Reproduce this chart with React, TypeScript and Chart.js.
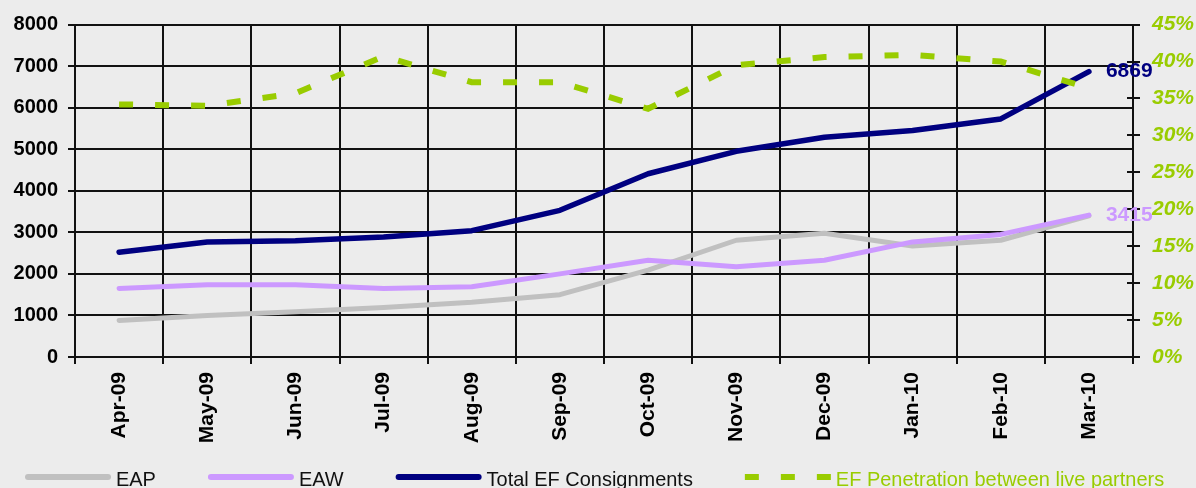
import React, { useEffect, useRef } from "react";
import { Chart, registerables } from "chart.js";

Chart.register(...registerables);

const months = ["Apr-09", "May-09", "Jun-09", "Jul-09", "Aug-09", "Sep-09", "Oct-09", "Nov-09", "Dec-09", "Jan-10", "Feb-10", "Mar-10"];
const eap = [880, 1000, 1090, 1190, 1320, 1500, 2090, 2810, 2980, 2670, 2810, 3400];
const eaw = [1650, 1740, 1740, 1650, 1690, 2000, 2330, 2170, 2330, 2770, 2950, 3415];
const total = [2520, 2770, 2800, 2890, 3040, 3530, 4410, 4950, 5290, 5450, 5730, 6869];
const penetration = [34.2, 34.0, 35.7, 40.7, 37.2, 37.2, 33.6, 39.5, 40.6, 40.9, 40.0, 36.4];

const leftTicks = [0, 1000, 2000, 3000, 4000, 5000, 6000, 7000, 8000];
const rightTicks = [0, 5, 10, 15, 20, 25, 30, 35, 40, 45];

const GRAY = "#C0C0C0";
const PURPLE = "#CC99FF";
const NAVY = "#000080";
const GREEN = "#99CC00";
const FONT = "'Liberation Sans', Arial, sans-serif";

const legendItems = [
  { label: "EAP", color: GRAY, dashed: false },
  { label: "EAW", color: PURPLE, dashed: false },
  { label: "Total EF Consignments", color: NAVY, dashed: false },
  { label: "EF Penetration between live partners", color: GREEN, dashed: true },
];

const rightInnerTicks = {
  id: "rightInnerTicks",
  beforeDatasetsDraw(chart: any) {
    const s = chart.scales.y1;
    const ctx = chart.ctx;
    const right = chart.chartArea.right;
    ctx.save();
    ctx.strokeStyle = "#111";
    ctx.lineWidth = 2;
    s.ticks.forEach((_t: any, i: number) => {
      const y = Math.round(s.getPixelForTick(i));
      ctx.beginPath();
      ctx.moveTo(right - 6, y);
      ctx.lineTo(right, y);
      ctx.stroke();
    });
    ctx.restore();
  },
};

const endLabels = {
  id: "endLabels",
  afterDatasetsDraw(chart: any) {
    const ctx = chart.ctx;
    ctx.save();
    ctx.font = `bold 21px ${FONT}`;
    ctx.textBaseline = "middle";
    ctx.textAlign = "left";
    chart.data.datasets.forEach((ds: any, i: number) => {
      if (!ds.endLabel) return;
      const meta = chart.getDatasetMeta(i);
      const pt = meta.data[meta.data.length - 1];
      ctx.fillStyle = ds.borderColor;
      ctx.fillText(String(ds.data[ds.data.length - 1]), pt.x + 17, pt.y);
    });
    ctx.restore();
  },
};

const bottomLegend = {
  id: "bottomLegend",
  afterDraw(chart: any) {
    const ctx = chart.ctx;
    ctx.save();
    ctx.font = `21px ${FONT}`;
    ctx.textBaseline = "alphabetic";
    const sx = 0.95;
    let x = 25;
    const lineY = 477;
    const textY = 486;
    legendItems.forEach((it) => {
      ctx.strokeStyle = it.color;
      ctx.lineWidth = 6;
      if (it.dashed) {
        ctx.lineCap = "butt";
        ctx.setLineDash([14, 22]);
      } else {
        ctx.lineCap = "round";
        ctx.setLineDash([]);
      }
      ctx.beginPath();
      ctx.moveTo(x + (it.dashed ? 0 : 3), lineY);
      ctx.lineTo(x + (it.dashed ? 86 : 83), lineY);
      ctx.stroke();
      ctx.setLineDash([]);
      ctx.fillStyle = it.dashed ? GREEN : "#111";
      const tx = x + 91;
      ctx.save();
      ctx.translate(tx, textY);
      ctx.scale(sx, 1);
      ctx.fillText(it.label, 0, 0);
      ctx.restore();
      x = tx + ctx.measureText(it.label).width * sx + 52;
    });
    ctx.restore();
  },
};

export default function App() {
  const ref = useRef<HTMLCanvasElement | null>(null);

  useEffect(() => {
    if (!ref.current) return;
    Chart.defaults.font.family = FONT;
    const chart = new Chart(ref.current, {
      type: "line",
      data: {
        labels: months,
        datasets: [
          {
            label: "EAP",
            data: eap,
            yAxisID: "y",
            borderColor: GRAY,
            backgroundColor: GRAY,
            borderWidth: 5,
            pointRadius: 0,
            borderCapStyle: "round",
            borderJoinStyle: "round",
            tension: 0,
            order: 3,
          },
          {
            label: "EAW",
            data: eaw,
            yAxisID: "y",
            borderColor: PURPLE,
            backgroundColor: PURPLE,
            borderWidth: 5,
            pointRadius: 0,
            borderCapStyle: "round",
            borderJoinStyle: "round",
            tension: 0,
            order: 2,
            endLabel: true,
          } as any,
          {
            label: "Total EF Consignments",
            data: total,
            yAxisID: "y",
            borderColor: NAVY,
            backgroundColor: NAVY,
            borderWidth: 5.5,
            pointRadius: 0,
            borderCapStyle: "round",
            borderJoinStyle: "round",
            tension: 0,
            order: 1,
            endLabel: true,
          } as any,
          {
            label: "EF Penetration between live partners",
            data: penetration,
            yAxisID: "y1",
            borderColor: GREEN,
            backgroundColor: GREEN,
            borderWidth: 6,
            borderDash: [14, 22],
            borderCapStyle: "butt",
            pointRadius: 0,
            tension: 0,
            order: 0,
          },
        ],
      },
      options: {
        animation: false,
        responsive: true,
        maintainAspectRatio: false,
        layout: { padding: { top: 24, left: 0, right: 0, bottom: 0 } },
        plugins: {
          legend: { display: false },
          tooltip: { enabled: false },
        },
        scales: {
          x: {
            offset: true,
            grid: {
              offset: true,
              color: "#111",
              lineWidth: 2,
              tickLength: 7,
              drawOnChartArea: true,
            },
            border: { color: "#111", width: 2 },
            ticks: {
              autoSkip: false,
              minRotation: 90,
              maxRotation: 90,
              padding: 8,
              color: "#000",
              font: { size: 21, weight: "bold", family: FONT },
            },
            afterFit: (s: any) => {
              s.height = 131;
            },
          },
          y: {
            position: "left",
            min: leftTicks[0],
            max: leftTicks[leftTicks.length - 1],
            afterBuildTicks: (s: any) => {
              s.ticks = leftTicks.map((v) => ({ value: v }));
            },
            grid: { color: "#111", lineWidth: 2, tickLength: 7 },
            border: { color: "#111", width: 2 },
            ticks: {
              padding: 10,
              color: "#000",
              font: { size: 20, weight: "bold", family: FONT },
              callback: (v: any) => String(v),
            },
            afterFit: (s: any) => {
              s.width = 75;
            },
          },
          y1: {
            position: "right",
            min: rightTicks[0],
            max: rightTicks[rightTicks.length - 1],
            afterBuildTicks: (s: any) => {
              s.ticks = rightTicks.map((v) => ({ value: v }));
            },
            grid: { drawOnChartArea: false, color: "#111", lineWidth: 2, tickLength: 7 },
            border: { color: "#111", width: 2 },
            ticks: {
              padding: 12,
              color: GREEN,
              font: { size: 21, weight: "bold", style: "italic", family: FONT },
              callback: (v: any) => `${v}%`,
            },
            afterFit: (s: any) => {
              s.width = 63;
            },
          },
        },
      },
      plugins: [rightInnerTicks, endLabels, bottomLegend],
    });
    return () => chart.destroy();
  }, []);

  return (
    <div
      style={{
        position: "fixed",
        left: 0,
        top: 0,
        width: 1196,
        height: 488,
        background: "#ECECEC",
      }}
    >
      <canvas ref={ref} />
    </div>
  );
}
